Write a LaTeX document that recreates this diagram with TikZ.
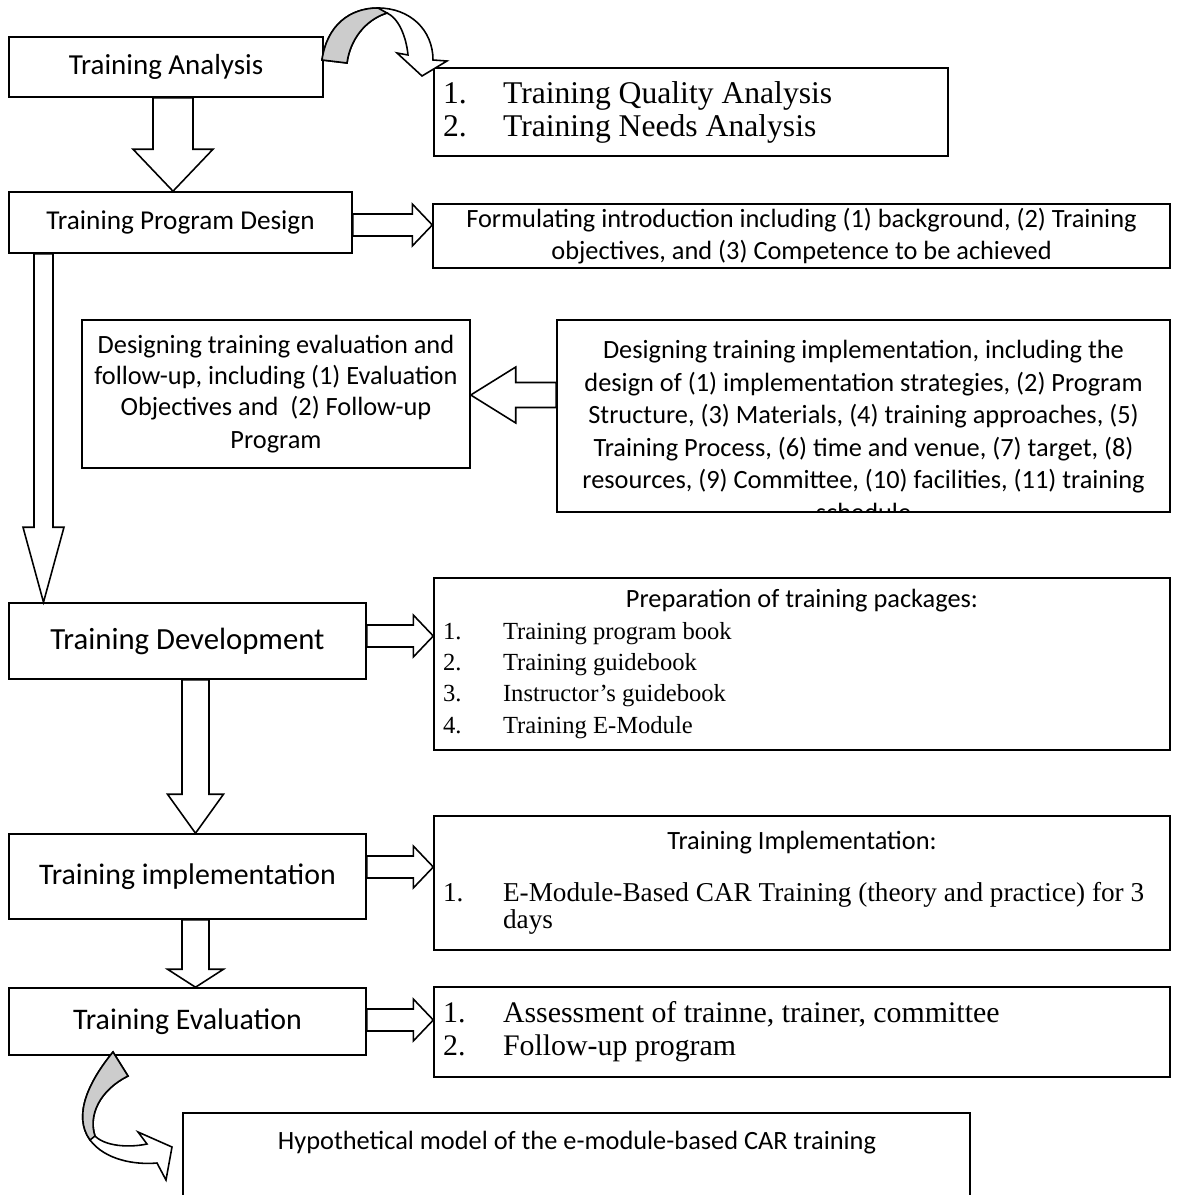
\documentclass[tikz,border=0pt]{standalone}
\usepackage{fontspec}
\setmainfont{Carlito}
\newfontfamily\tnr{Liberation Serif}
\usetikzlibrary{calc}
\newcommand{\itm}[2]{\makebox[1.2cm][l]{#1}#2}

\begin{document}
\begin{tikzpicture}[x=0.02cm,y=-0.02cm,
  box/.style={draw,line width=0.9pt,inner sep=0pt,align=center,font=\fontsize{15}{18.5}\selectfont},
  big/.style={box,font=\fontsize{17}{20}\selectfont},
  lst/.style={box,align=flush left,inner xsep=0.18cm,font=\tnr\fontsize{17}{18.8}\selectfont},
  blk/.style={draw,line width=0.9pt,fill=white},
  curv/.style={draw,line width=0.9pt,fill=white},
  back/.style={curv,fill=gray!40},
  vblk/.style n args={3}{to path={let \p1=(\tikztostart),\p2=(\tikztotarget) in
    ({\x1-#1},\y1) -- ({\x1-#1},{\y2+#3}) -- ({\x1-#2},{\y2+#3}) -- (\x1,\y2)
    -- ({\x1+#2},{\y2+#3}) -- ({\x1+#1},{\y2+#3}) -- ({\x1+#1},\y1) -- cycle}},
  hblk/.style n args={3}{to path={let \p1=(\tikztostart),\p2=(\tikztotarget) in
    (\x1,{\y1+#1}) -- ({\x2-(#3)},{\y1+#1}) -- ({\x2-(#3)},{\y1+#2}) -- (\x2,\y1)
    -- ({\x2-(#3)},{\y1-#2}) -- ({\x2-(#3)},{\y1-#1}) -- (\x1,{\y1-#1}) -- cycle}}]
\useasboundingbox (0,0) rectangle (1182,1195);

% left column
\node[big,minimum width=6.28cm,minimum height=1.2cm,font=\fontsize{16.5}{19}\selectfont] (ta) at (166,67) {Training Analysis};
\node[box,minimum width=6.86cm,minimum height=1.22cm,font=\fontsize{15.5}{18.5}\selectfont] (pd) at (180.5,222.5) {Training Program Design};
\node[box,minimum width=7.76cm,minimum height=2.96cm,font=\fontsize{15}{17.8}\selectfont] (ed) at (276,394) {Designing training evaluation and\\follow-up, including (1) Evaluation\\Objectives and~ (2) Follow-up\\[1pt]Program};
\node[big,minimum width=7.14cm,minimum height=1.52cm,font=\fontsize{17.5}{20}\selectfont] (dv) at (187.5,641) {Training Development};
\node[big,minimum width=7.14cm,minimum height=1.7cm] (im) at (187.5,876.5) {Training implementation};
\node[big,minimum width=7.14cm,minimum height=1.34cm] (ev) at (187.5,1021.5) {Training Evaluation};

% right column
\node[lst,text width=9.92cm,minimum height=1.76cm,font=\tnr\fontsize{18}{18.8}\selectfont] (qa) at (691,112) {\itm{1.}{Training Quality Analysis}\\\itm{2.}{Training Needs Analysis}};
\node[box,minimum width=14.74cm,minimum height=1.28cm] (fi) at (801.5,236) {Formulating introduction including (1) background, (2) Training\\objectives, and (3) Competence to be achieved};
\node[box,minimum width=12.26cm,minimum height=3.84cm,path picture={
  \node[anchor=north,align=center,font=\fontsize{15}{18.5}\selectfont] (idt) at ([yshift=-0.28cm]path picture bounding box.north)
  {Designing training implementation, including the\\design of (1) implementation strategies, (2) Program\\Structure, (3) Materials, (4) training approaches, (5)\\Training Process, (6) time and venue, (7) target, (8)\\resources, (9) Committee, (10) facilities, (11) training\\schedule};}] (id) at (863.5,416) {};
\node[box,align=flush left,text width=14.36cm,inner xsep=0.18cm,minimum height=3.44cm,font=\fontsize{15}{17.8}\selectfont] (pp) at (802,664) {\makebox[\linewidth]{Preparation of training packages:}\\[0pt]{\tnr\fontsize{14}{17.8}\selectfont\itm{1.}{Training program book}\\\itm{2.}{Training guidebook}\\\itm{3.}{Instructor’s guidebook}\\\itm{4.}{Training E-Module}}};
\node[box,align=flush left,text width=14.36cm,inner xsep=0.18cm,minimum height=2.68cm,font=\fontsize{15}{15.5}\selectfont] (ti) at (802,883) {\makebox[\linewidth]{Training Implementation:}\\[5mm]{\tnr\fontsize{15.5}{15.5}\selectfont\itm{1.}{E-Module-Based CAR Training (theory and practice) for 3}\\\itm{}{days}}};
\node[lst,text width=14.36cm,minimum height=1.8cm] (as) at (802,1032) {\itm{1.}{Assessment of trainne, trainer, committee}\\\itm{2.}{Follow-up program}};
\node[box,minimum width=15.74cm,minimum height=2.54cm] (hm) at (576.5,1176.5) {};
\node[font=\fontsize{15}{18.5}\selectfont] (hmt) at (577,1143) {Hypothetical model of the e-module-based CAR training};

% block arrows
\draw[blk] (ta.south) ++(7,0) to[vblk={4mm}{8mm}{8.4mm}] (pd.north);
\draw[blk] (pd.east) ++(0,2.5) to[hblk={2.2mm}{4.2mm}{4mm}] (fi.west);
\draw[blk] (id.west) ++(0,-21) to[hblk={2.5mm}{5.6mm}{-9mm}] (ed.east);
\draw[blk] (pd.south) ++(-137,0) to[vblk={1.9mm}{4.1mm}{15mm}] (dv.north);
\draw[blk] (dv.east) ++(0,-5) to[hblk={2.2mm}{4.2mm}{4mm}] (pp.west);
\draw[blk] (dv.south) ++(8,0) to[vblk={2.7mm}{5.6mm}{7.8mm}] (im.north);
\draw[blk] (im.east) ++(0,-9.5) to[hblk={2.2mm}{4.2mm}{4mm}] (ti.west);
\draw[blk] (im.south) ++(8,0) to[vblk={2.7mm}{5.6mm}{3.6mm}] (ev.north);
\draw[blk] (ev.east) ++(0,-1.5) to[hblk={2.2mm}{4.2mm}{4mm}] (as.west);

% curved arrows
\draw[curv] (322,60) .. controls (327,25) and (350,8) .. (378,8) .. controls (410,8) and (433,30) .. (433,60)
  -- (447,61) -- (422,76) -- (397,53) -- (408,55) .. controls (406,35) and (398,18) .. (387,13)
  .. controls (365,20) and (350,40) .. (347,63) -- cycle;
\draw[back] (322,60) .. controls (327,25) and (350,8) .. (378,8) -- (387,13) .. controls (365,20) and (350,40) .. (347,63) -- cycle;
\draw[curv] (113,1052) .. controls (90,1080) and (72,1115) .. (90,1140) .. controls (105,1160) and (135,1165) .. (157,1163)
  -- (166,1180) -- (172,1147) -- (138,1132) -- (147,1144) .. controls (128,1148) and (105,1146) .. (95,1136)
  .. controls (88,1115) and (100,1090) .. (128,1076) -- cycle;
\draw[back] (113,1052) .. controls (90,1080) and (72,1115) .. (90,1140) -- (95,1136) .. controls (88,1115) and (100,1090) .. (128,1076) -- cycle;
\end{tikzpicture}
\end{document}
